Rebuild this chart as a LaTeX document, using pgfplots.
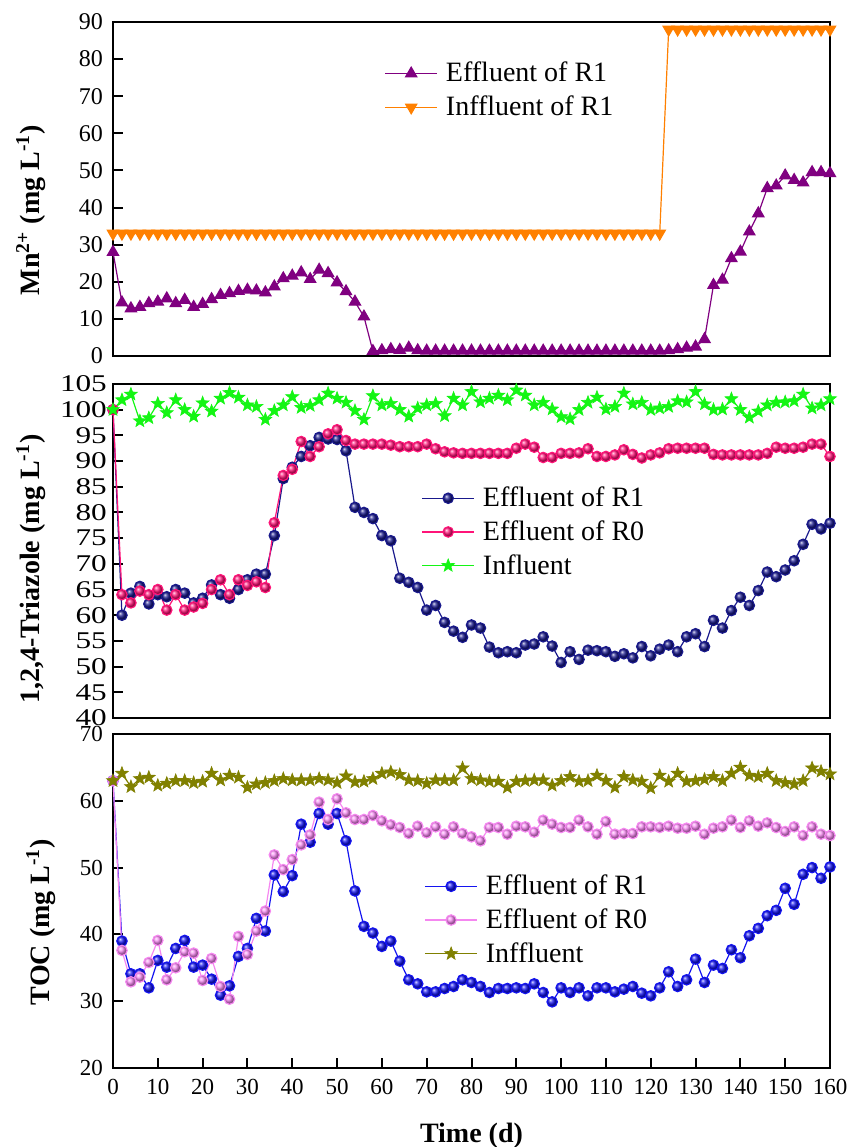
\documentclass[border=0pt]{standalone}
\usepackage{fontspec}
\setmainfont{Liberation Serif}
\usepackage{pgfplots}
\usetikzlibrary{plotmarks}
\pgfplotsset{compat=1.18}
\definecolor{cpurple}{RGB}{128,0,128}
\definecolor{corange}{RGB}{255,128,0}
\definecolor{cnavy}{RGB}{25,25,140}
\definecolor{cpink}{RGB}{255,20,120}
\definecolor{cgreen}{RGB}{20,245,20}
\definecolor{cblue}{RGB}{20,20,240}
\definecolor{clmag}{RGB}{245,135,240}
\definecolor{colive}{RGB}{128,128,0}
\pgfdeclareplotmark{fstar}{%
  \pgfpathmoveto{\pgfpointpolar{90}{\pgfplotmarksize}}%
  \pgfpathlineto{\pgfpointpolar{126}{0.42\pgfplotmarksize}}%
  \pgfpathlineto{\pgfpointpolar{162}{\pgfplotmarksize}}%
  \pgfpathlineto{\pgfpointpolar{198}{0.42\pgfplotmarksize}}%
  \pgfpathlineto{\pgfpointpolar{234}{\pgfplotmarksize}}%
  \pgfpathlineto{\pgfpointpolar{270}{0.42\pgfplotmarksize}}%
  \pgfpathlineto{\pgfpointpolar{306}{\pgfplotmarksize}}%
  \pgfpathlineto{\pgfpointpolar{342}{0.42\pgfplotmarksize}}%
  \pgfpathlineto{\pgfpointpolar{18}{\pgfplotmarksize}}%
  \pgfpathlineto{\pgfpointpolar{54}{0.42\pgfplotmarksize}}%
  \pgfpathclose
  \pgfusepathqfillstroke
}
\pgfplotsset{
 panel/.style={
  scale only axis, width=358.5pt, height=167pt,
  xmin=0, xmax=160,
  tick align=inside, xtick pos=bottom, ytick pos=left,
  major tick length=5pt,
  axis line style={line width=1pt},
  tick style={line width=1pt, black},
  /pgf/number format/assume math mode=true,
  tick label style={font=\fontsize{12}{14}\selectfont},
  yticklabel style={xshift=-1.5pt},
  xticklabel style={yshift=-2pt},
  label style={font=\fontsize{14}{16}\selectfont\bfseries},
  legend style={draw=none, fill=none, font=\fontsize{14}{16}\selectfont, cells={anchor=west}, inner xsep=0pt, inner ysep=0pt, row sep=1.5pt, column sep=2pt, anchor=west},
  legend image code/.code={\draw[mark repeat=2,mark phase=2] plot coordinates {(0cm,0cm)(0.46cm,0cm)(0.92cm,0cm)};},
  every axis plot/.append style={line width=0.6pt},
 },
 starmark/.style={mark=fstar, mark size=3.4pt, mark options={fill=#1, draw=#1, line width=0.3pt}},
}
\begin{document}
\begin{tikzpicture}
\path[use as bounding box] (0,0) rectangle (430.5pt,573.5pt);
% ---------- Panel 1 ----------
\begin{axis}[panel, at={(56.5pt,395.5pt)}, anchor=south west,
  ymin=0, ymax=90, ytick={0,10,...,90}, xtick=\empty,
  ylabel={Mn\textsuperscript{2+} (mg L\textsuperscript{-1})},
  ylabel style={at={(axis description cs:-0.1144,0.437)}, anchor=center},
  legend style={at={(axis description cs:0.378,0.795)}}]
\addplot[cpurple, mark=triangle*, mark size=3.2pt] coordinates {
(0,28) (2,14.4) (4,12.8) (6,13.2) (8,14.2) (10,14.6) (12,15.5) (14,14.2) (16,15.1) (18,13.2)
(20,14) (22,15.3) (24,16.4) (26,16.9) (28,17.5) (30,17.8) (32,17.6) (34,17.1) (36,18.7) (38,20.9)
(40,21.6) (42,22.5) (44,20.7) (46,23.2) (48,22.3) (50,19.8) (52,17.4) (54,14.6) (56,10.6) (58,1.3)
(60,1.5) (62,1.8) (64,1.6) (66,2.2) (68,1.5) (70,1.4) (72,1.4) (74,1.4) (76,1.4) (78,1.4)
(80,1.4) (82,1.4) (84,1.4) (86,1.4) (88,1.4) (90,1.4) (92,1.4) (94,1.4) (96,1.4) (98,1.4)
(100,1.4) (102,1.4) (104,1.4) (106,1.4) (108,1.4) (110,1.4) (112,1.4) (114,1.4) (116,1.4) (118,1.4)
(120,1.4) (122,1.4) (124,1.5) (126,1.8) (128,2.2) (130,2.5) (132,4.5) (134,19.1) (136,20.5) (138,26.3)
(140,28.1) (142,33.5) (144,38.4) (146,45.2) (148,45.9) (150,48.6) (152,47.4) (154,46.7) (156,49.5) (158,49.5)
(160,49.2)};
\addlegendentry{Effluent of R1}
\addplot[corange, mark=triangle*, mark size=3.2pt, mark options={rotate=180}] coordinates {
(0,33) (2,33) (4,33) (6,33) (8,33) (10,33) (12,33) (14,33) (16,33) (18,33)
(20,33) (22,33) (24,33) (26,33) (28,33) (30,33) (32,33) (34,33) (36,33) (38,33)
(40,33) (42,33) (44,33) (46,33) (48,33) (50,33) (52,33) (54,33) (56,33) (58,33)
(60,33) (62,33) (64,33) (66,33) (68,33) (70,33) (72,33) (74,33) (76,33) (78,33)
(80,33) (82,33) (84,33) (86,33) (88,33) (90,33) (92,33) (94,33) (96,33) (98,33)
(100,33) (102,33) (104,33) (106,33) (108,33) (110,33) (112,33) (114,33) (116,33) (118,33)
(120,33) (122,33) (124,88) (126,88) (128,88) (130,88) (132,88) (134,88) (136,88) (138,88)
(140,88) (142,88) (144,88) (146,88) (148,88) (150,88) (152,88) (154,88) (156,88) (158,88)
(160,88)};
\addlegendentry{Inffluent of R1}
\end{axis}
% ---------- Panel 2 ----------
\begin{axis}[panel, at={(56.5pt,214.5pt)}, anchor=south west,
  ymin=40, ymax=105, ytick={40,45,...,105}, xtick=\empty,
  yticklabel style={xshift=3pt, xscale=1.3},
  ylabel={1,2,4-Triazole (mg L\textsuperscript{-1})},
  ylabel style={at={(axis description cs:-0.1144,0.446)}, anchor=center},
  legend style={at={(axis description cs:0.4296,0.557)}}]
\addplot[cnavy, mark=ball, mark size=2.6pt, mark options={ball color=cnavy}] coordinates {
(0,100) (2,60) (4,64.3) (6,65.6) (8,62.2) (10,64) (12,63.6) (14,65) (16,64.3) (18,62.4)
(20,63.3) (22,65.9) (24,64) (26,63.3) (28,65) (30,66.9) (32,68) (34,68) (36,75.5) (38,86.6)
(40,88.8) (42,90.9) (44,93) (46,94.6) (48,94.3) (50,94.2) (52,92) (54,81) (56,80) (58,78.8)
(60,75.5) (62,74.5) (64,67.2) (66,66.4) (68,65.4) (70,61) (72,61.9) (74,58.6) (76,56.9) (78,55.7)
(80,58.1) (82,57.5) (84,53.8) (86,52.7) (88,52.9) (90,52.7) (92,54.2) (94,54.4) (96,55.8) (98,54)
(100,50.8) (102,52.9) (104,51.4) (106,53.2) (108,53.1) (110,52.9) (112,52) (114,52.5) (116,51.7) (118,53.9)
(120,52.1) (122,53.4) (124,54.2) (126,52.9) (128,55.8) (130,56.4) (132,53.9) (134,59) (136,57.5) (138,60.9)
(140,63.5) (142,61.9) (144,64.8) (146,68.4) (148,67.5) (150,68.8) (152,70.6) (154,73.8) (156,77.7) (158,76.8)
(160,77.9)};
\addlegendentry{Effluent of R1}
\addplot[cpink, mark=ball, mark size=2.6pt, mark options={ball color=cpink}] coordinates {
(0,100) (2,64) (4,62.4) (6,64.7) (8,64) (10,65) (12,61) (14,64) (16,61) (18,61.6)
(20,62.3) (22,65) (24,66.9) (26,64) (28,66.9) (30,65.8) (32,66.5) (34,65.4) (36,78) (38,87.2)
(40,88.4) (42,93.8) (44,90.9) (46,92.8) (48,95.3) (50,96.1) (52,94) (54,93.3) (56,93.3) (58,93.3)
(60,93.3) (62,93.1) (64,92.8) (66,92.8) (68,92.8) (70,93.3) (72,92.4) (74,91.8) (76,91.6) (78,91.5)
(80,91.5) (82,91.5) (84,91.5) (86,91.5) (88,91.5) (90,92.5) (92,93.3) (94,92.7) (96,90.7) (98,90.7)
(100,91.5) (102,91.5) (104,91.6) (106,92.4) (108,90.9) (110,90.9) (112,91.2) (114,92.2) (116,91.3) (118,90.6)
(120,91.2) (122,91.6) (124,92.4) (126,92.5) (128,92.5) (130,92.5) (132,92.5) (134,91.3) (136,91.2) (138,91.2)
(140,91.2) (142,91.2) (144,91.2) (146,91.5) (148,92.7) (150,92.5) (152,92.5) (154,92.7) (156,93.3) (158,93.3)
(160,90.9)};
\addlegendentry{Effluent of R0}
\addplot[cgreen, starmark=cgreen] coordinates {
(0,100) (2,101.9) (4,103) (6,97.8) (8,98.4) (10,101.2) (12,99.4) (14,101.9) (16,100) (18,98.7)
(20,101.3) (22,99.7) (24,102.2) (26,103.3) (28,102.4) (30,100.9) (32,100.6) (34,98.1) (36,99.8) (38,100.9)
(40,102.5) (42,100.4) (44,100.8) (46,101.9) (48,103.2) (50,102.2) (52,101.4) (54,99.8) (56,98.1) (58,102.7)
(60,100.9) (62,101.2) (64,100) (66,98.7) (68,100.3) (70,100.9) (72,101.2) (74,98.8) (76,102.2) (78,100.9)
(80,103.5) (82,101.5) (84,102.2) (86,102.8) (88,101.9) (90,103.8) (92,102.8) (94,100.9) (96,101.4) (98,100.1)
(100,98.6) (102,98.2) (104,100) (106,101.4) (108,102.4) (110,100.1) (112,100.6) (114,103.2) (116,101.1) (118,101.4)
(120,100) (122,100.3) (124,100.6) (126,101.7) (128,101.5) (130,103.5) (132,101.1) (134,100) (136,100.1) (138,102.1)
(140,100) (142,98.5) (144,99.7) (146,100.9) (148,101.4) (150,101.5) (152,101.7) (154,103) (156,100.3) (158,100.9)
(160,102.1)};
\addlegendentry{Influent}
\end{axis}
% ---------- Panel 3 ----------
\begin{axis}[panel, at={(56.5pt,39.5pt)}, anchor=south west,
  ymin=20, ymax=70, ytick={20,30,...,70}, xtick={0,10,...,160},
  tick label style={font=\fontsize{11.5}{14}\selectfont},
  xlabel={Time (d)},
  xlabel style={at={(axis description cs:0.5,-0.2216)}, anchor=base},
  ylabel={TOC (mg L\textsuperscript{-1})},
  ylabel style={at={(axis description cs:-0.1004,0.437)}, anchor=center},
  legend style={at={(axis description cs:0.4337,0.443)}}]
\addplot[cblue, mark=ball, mark size=2.6pt, mark options={ball color=cblue}] coordinates {
(0,63) (2,39) (4,34.1) (6,34.1) (8,32) (10,36.1) (12,35.1) (14,37.9) (16,39.1) (18,35.1)
(20,35.4) (22,33.3) (24,30.9) (26,32.3) (28,36.7) (30,37.9) (32,42.4) (34,40.5) (36,48.9) (38,46.4)
(40,48.8) (42,56.5) (44,53.8) (46,58.1) (48,56.5) (50,58.1) (52,54) (54,46.5) (56,41.2) (58,40.2)
(60,38.2) (62,39) (64,36) (66,33.2) (68,32.6) (70,31.4) (72,31.4) (74,31.9) (76,32.2) (78,33.2)
(80,32.8) (82,32.2) (84,31.3) (86,31.9) (88,31.9) (90,32) (92,31.9) (94,32.6) (96,31.3) (98,29.9)
(100,32) (102,31.3) (104,32) (106,30.8) (108,32) (110,32) (112,31.4) (114,31.8) (116,32.2) (118,31.2)
(120,30.8) (122,32) (124,34.4) (126,32.2) (128,33.2) (130,36.3) (132,32.8) (134,35.4) (136,34.9) (138,37.7)
(140,36.5) (142,39.8) (144,40.9) (146,42.8) (148,43.6) (150,46.9) (152,44.5) (154,49) (156,50) (158,48.4)
(160,50.1)};
\addlegendentry{Effluent of R1}
\addplot[clmag, mark=ball, mark size=2.6pt, mark options={ball color=clmag}] coordinates {
(0,63) (2,37.6) (4,32.9) (6,33.6) (8,35.8) (10,39.1) (12,33.2) (14,35) (16,37.4) (18,37.2)
(20,33.1) (22,36.4) (24,32.2) (26,30.3) (28,39.7) (30,37) (32,40.5) (34,43.5) (36,51.9) (38,49.7)
(40,51.2) (42,53.4) (44,54.9) (46,59.8) (48,57.2) (50,60.3) (52,58.2) (54,57.2) (56,57.2) (58,57.8)
(60,57) (62,56.4) (64,56) (66,55.1) (68,56.2) (70,55.2) (72,56.1) (74,55) (76,56.1) (78,55.1)
(80,54.6) (82,54) (84,56) (86,56) (88,55) (90,56.2) (92,56.1) (94,55.3) (96,57.1) (98,56.5)
(100,56) (102,56) (104,57.1) (106,56.1) (108,55) (110,56.9) (112,55) (114,55.1) (116,55.1) (118,56.1)
(120,56.1) (122,56) (124,56.2) (126,55.9) (128,55.9) (130,56.2) (132,55) (134,55.9) (136,56.1) (138,57.1)
(140,56) (142,57) (144,56.2) (146,56.7) (148,56) (150,55.4) (152,56.1) (154,54.8) (156,56.1) (158,55)
(160,54.8)};
\addlegendentry{Effluent of R0}
\addplot[colive, starmark=colive] coordinates {
(0,63) (2,64.1) (4,62.1) (6,63.3) (8,63.5) (10,62.3) (12,62.6) (14,63) (16,63) (18,62.7)
(20,62.9) (22,64.1) (24,63.1) (26,63.8) (28,63.5) (30,62) (32,62.5) (34,62.7) (36,63) (38,63.3)
(40,63.1) (42,63.1) (44,63.1) (46,63.3) (48,63.1) (50,62.7) (52,63.7) (54,62.8) (56,62.9) (58,63.3)
(60,64.1) (62,64.3) (64,63.9) (66,63.1) (68,63) (70,62.6) (72,63.1) (74,63.1) (76,63.1) (78,64.9)
(80,63.3) (82,63.1) (84,62.9) (86,62.9) (88,62) (90,62.9) (92,63) (94,63.1) (96,63.1) (98,62.3)
(100,63) (102,63.6) (104,62.9) (106,63) (108,63.8) (110,63) (112,62) (114,63.6) (116,63.1) (118,62.9)
(120,61.9) (122,63.8) (124,62.9) (126,64.1) (128,62.9) (130,63) (132,63.2) (134,63.6) (136,63) (138,64.1)
(140,65) (142,63.8) (144,63.6) (146,64.1) (148,63) (150,62.7) (152,62.5) (154,63) (156,64.9) (158,64.4)
(160,64)};
\addlegendentry{Inffluent}
\end{axis}
\end{tikzpicture}
\end{document}
